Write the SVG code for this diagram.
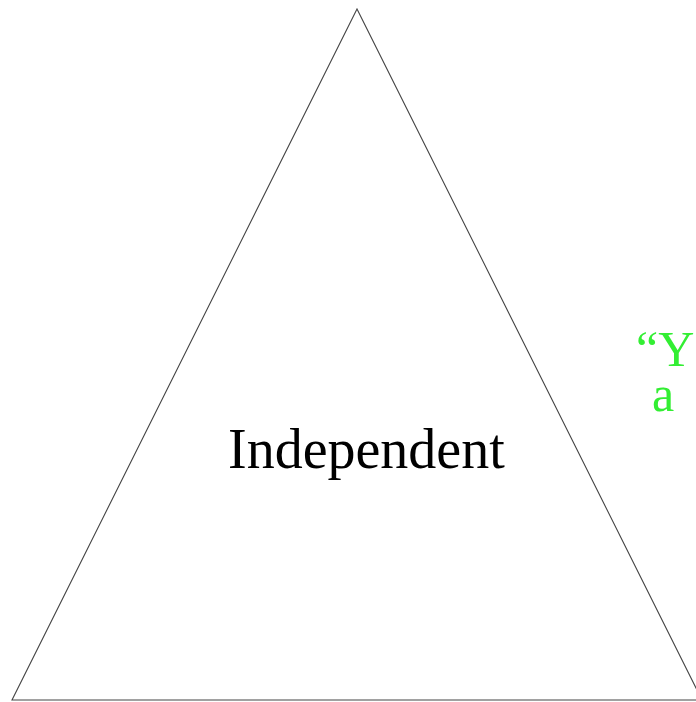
<svg xmlns="http://www.w3.org/2000/svg" width="696" height="702" viewBox="0 0 696 702">
<style>
.tri{fill:none;stroke:#444;stroke-width:1.1}
.lbl{font-family:"Liberation Serif","Times New Roman",serif;font-size:56px;fill:#000}
.grn{font-family:"Liberation Serif","Times New Roman",serif;font-size:50px;fill:#33ee33}
</style>
<rect width="696" height="702" fill="#fff"/>
<g id="triangle">
<polygon class="tri" points="357,9 12,700 702,700"/>
<text class="lbl" x="228" y="468">Independent</text>
</g>
<g id="quote">
<text class="grn" x="636" y="366">“Y</text>
<text class="grn" x="652" y="411">a</text>
</g>
</svg>
